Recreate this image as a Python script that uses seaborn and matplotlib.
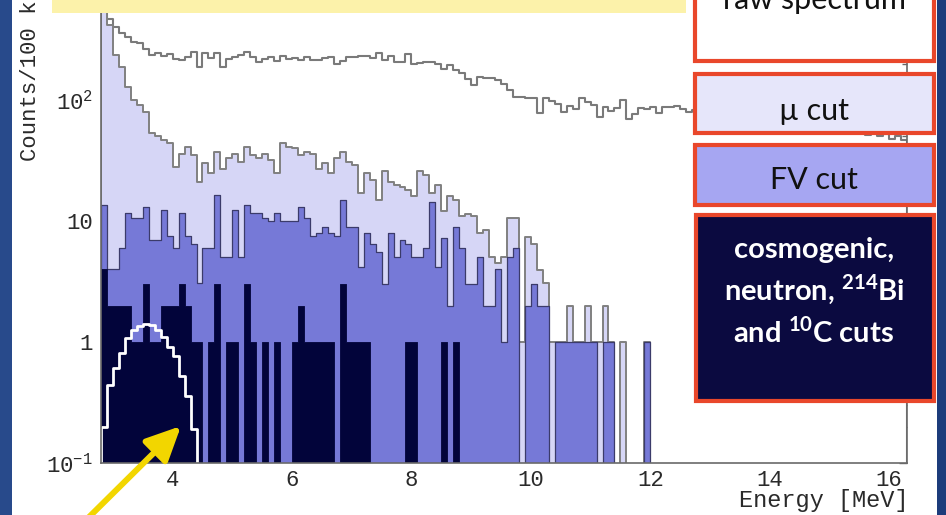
import numpy as np
import pandas as pd
import matplotlib
matplotlib.use("Agg")
import matplotlib.pyplot as plt
import seaborn as sns
from matplotlib.patches import Rectangle
from matplotlib.ticker import MultipleLocator, LogLocator, NullFormatter

# ---------------- data (counts per 0.1 MeV bin, bins start at 2.8 MeV) ----------------
BIN_START = 2.8
BIN_WIDTH = 0.1
N_BINS = 135

raw_spectrum = [
    1000, 470, 400, 358, 330, 300, 295, 265, 235, 244, 232, 240, 218, 214, 225, 250,
    187, 244, 221, 244, 187, 218, 225, 235, 250, 228, 207, 218, 228, 212, 232, 218,
    221, 214, 228, 214, 214, 221, 225, 200, 212, 225, 228, 232, 232, 221, 246, 215,
    232, 207, 207, 240, 200, 203, 207, 207, 200, 180, 195, 177, 168, 150, 133, 154,
    151, 152, 145, 135, 121, 105, 105, 103, 103, 78, 103, 98, 93, 80, 90, 85,
    103, 96, 91, 73, 88, 81, 86, 100, 70, 77, 86, 84, 88, 78, 88, 87, 90, 84, 80,
    82, 79, 85, 76, 80, 74, 78, 72, 75, 70, 73, 68, 71, 66, 69, 64, 67, 62,
    65, 60, 63, 58, 61, 57, 59, 55, 57, 53, 55, 51, 53, 50, 52, 48, 50, 47,
]
mu_cut = [
    900, 420, 235, 187, 128, 100, 91, 80, 53, 50, 47, 44, 28, 36, 41, 35,
    21, 30, 25, 37, 27, 33, 36, 31, 41, 35, 33, 36, 32, 25, 44, 41,
    40, 35, 37, 36, 27, 30, 25, 33, 37, 31, 29, 17, 25, 22, 15, 26,
    21, 20, 19, 18, 16, 26, 24, 17, 20, 12, 16, 15, 11, 11.5, 11, 8, 8.5, 5,
    4.5, 5, 10.6, 10.6, 1, 7.4, 6.5, 3.9, 3.1, 1, 1, 1, 2, 1, 1, 2, 1, 1, 2, 1,
    0, 1, 0, 0, 0, 1,
]
fv_cut = [
    13.5, 4, 4, 6, 11.6, 10.6, 10.6, 13, 7, 7, 12.3, 7.5, 6, 11.6, 7.5, 6.5,
    3.1, 6, 6, 16.5, 5, 5, 12.3, 5, 13.5, 11.6, 11.6, 10.6, 10, 11.6, 10, 10,
    10, 13, 10.6, 7.5, 8, 9, 8, 7.5, 14.8, 9,
    8.9, 4.2, 8, 6.5, 5.5, 3, 8, 5, 7, 6.5, 5, 5, 6, 14.3, 4.2, 7.2, 2, 8.9,
    6, 3, 3, 5, 2, 2, 4, 1, 5, 6,
    0, 2, 3, 2, 2, 0, 1, 1, 1, 1, 1, 1, 1, 0, 1, 1, 0, 0, 0, 0, 0, 1,
]
final_cuts = [
    4, 2, 2, 2, 2, 1, 1, 3, 1, 1, 2, 2, 2, 3, 2, 1, 1, 0, 1, 3,
    0, 1, 1, 0, 3, 1, 0, 1, 0, 1, 0, 0, 1, 2, 1, 1, 1, 1, 1, 0,
    3, 1, 1, 1, 1, 0, 0, 0, 0, 0, 0, 1, 1, 0, 0, 0, 0, 1, 0, 1,
]
expected_curve = [0.2, 0.44, 0.61, 0.81, 1.08, 1.25, 1.36, 1.42, 1.38, 1.25,
                  1.1, 0.91, 0.77, 0.52, 0.36, 0.19, 0]

x_tick_values = [4, 6, 8, 10, 12, 14, 16]
x_tick_labels = ["4", "6", "8", "10", "12", "14", "16"]
y_tick_values = [0.1, 1, 10, 100]
y_tick_labels = [r"10$^{\mathregular{-1}}$", "1", "10", r"10$^{\mathregular{2}}$"]

box_labels = ["raw spectrum", "\u00b5 cut", "FV cut"]
final_box_lines = ["cosmogenic,", r"neutron, $^{\mathregular{214}}$Bi", r"and $^{\mathregular{10}}$C cuts"]

# ---------------- style ----------------
sns.set_style("white")
plt.rcParams["font.family"] = ["Liberation Mono", "DejaVu Sans"]
plt.rcParams["mathtext.fontset"] = "custom"

MU_FILL = "#d6d6f6"
FV_FILL = "#7679d7"
NAVY = "#02043a"
RED = "#e9472b"
MONO = ["Liberation Mono", "DejaVu Sans Mono"]
SANS = ["Lato", "DejaVu Sans"]

W, H = 946, 515
def fx(px):
    return px / W
def fy(py):
    return 1 - py / H

fig = plt.figure(figsize=(W / 100, H / 100), dpi=100)
fig.patch.set_facecolor("white")
ax = fig.add_axes([fx(101), fy(463), (907 - 101) / W, (463 + 21) / H])
ax.set_yscale("log")
ax.set_facecolor("white")

edges = [round(BIN_START + BIN_WIDTH * i, 3) for i in range(N_BINS + 1)]
centers = [e + BIN_WIDTH / 2 for e in edges[:-1]]

def pad(v):
    a = np.zeros(N_BINS)
    a[:len(v)] = v
    return a

df = pd.DataFrame({
    "energy": centers,
    "raw": pad(raw_spectrum),
    "mu": pad(mu_cut),
    "fv": pad(fv_cut),
    "final": pad(final_cuts),
    "expected": pad(expected_curve),
})

layers = [
    ("raw", "white", "#7a7a7a", 1.5, 3),
    ("mu", MU_FILL, "#808080", 1.4, 4),
    ("fv", FV_FILL, "#3b3b6a", 0.9, 5),
    ("final", NAVY, NAVY, 0.6, 6),
]
for col, face, edge, lw, z in layers:
    sns.histplot(data=df, x="energy", weights=col, bins=edges, element="step",
                 fill=True, color=face, facecolor=face, edgecolor=edge,
                 linewidth=lw, alpha=1, ax=ax, zorder=z)

sns.histplot(data=df, x="energy", weights="expected", bins=edges, element="step",
             fill=True, color="white", facecolor="none", edgecolor="white",
             linewidth=2.0, alpha=1, ax=ax, zorder=7)

ax.set_xlim(2.8, 16.3)
ax.set_ylim(0.1, 1000)
ax.set_xlabel("")
ax.set_ylabel("")

ax.set_xticks(x_tick_values)
ax.set_xticklabels(x_tick_labels, fontfamily=MONO, fontsize=16, color="#2a2a2a")
ax.xaxis.set_minor_locator(MultipleLocator(0.5))
ax.set_yticks(y_tick_values)
ax.set_yticklabels(y_tick_labels, fontfamily=MONO, fontsize=16, color="#2a2a2a")
ax.yaxis.set_minor_locator(LogLocator(base=10, subs=np.arange(2, 10)))
ax.yaxis.set_minor_formatter(NullFormatter())
ax.tick_params(axis="both", which="major", direction="in", length=6, width=1,
               color="#666666", top=True, right=True)
ax.tick_params(axis="both", which="minor", direction="in", length=3.5, width=1,
               color="#666666", top=True, right=True)
ax.tick_params(axis="x", pad=5)
ax.tick_params(axis="y", pad=6)
for s in ax.spines.values():
    s.set_color("#6a6a6a")
    s.set_linewidth(1.2)
    s.set_zorder(10)

fig.text(fx(31), fy(67), "Counts/100 keV", rotation=90, ha="center", va="center",
         fontfamily=MONO, fontsize=16, color="#2a2a2a")
fig.text(fx(908), fy(501), "Energy [MeV]", ha="right", va="center",
         fontfamily=MONO, fontsize=17, color="#2a2a2a")

# ---------------- slide decorations ----------------
def fig_rect(x0, y0, x1, y1, face, edge="none", lw=0, z=20):
    r = Rectangle((fx(x0), fy(y1)), (x1 - x0) / W, (y1 - y0) / H,
                  transform=fig.transFigure, facecolor=face, edgecolor=edge,
                  linewidth=lw, zorder=z, clip_on=False)
    fig.add_artist(r)

fig_rect(0, -2, 12, 517, "#284a8b", z=19)
fig_rect(937, -2, 948, 517, "#1d3c7b", z=19)
fig_rect(52, -10, 686, 13, "#fcf2aa", z=20)

fig_rect(695, -10, 934, 61, "white", RED, 3.0)
fig_rect(695, 74, 934, 133, "#e6e6fa", RED, 3.0)
fig_rect(695, 145, 934, 205, "#a6a6f2", RED, 3.0)
fig_rect(696, 215, 934, 401, "#0b0a40", RED, 3.0)

fig.text(fx(814), fy(9), box_labels[0], ha="center", va="baseline",
         fontfamily=SANS, fontsize=22, color="#111111", zorder=21)
fig.text(fx(814), fy(120), box_labels[1], ha="center", va="baseline",
         fontfamily=SANS, fontsize=22, color="#111111", zorder=21)
fig.text(fx(814), fy(189), box_labels[2], ha="center", va="baseline",
         fontfamily=SANS, fontsize=22, color="#111111", zorder=21)
for line, base in zip(final_box_lines, [258, 300, 343]):
    fig.text(fx(814), fy(base), line, ha="center", va="baseline",
             fontfamily=SANS, fontsize=21, fontweight="bold", color="white",
             zorder=21)

ax.annotate("", xy=(fx(181), fy(426)), xytext=(fx(84), fy(522)),
            xycoords="figure fraction", textcoords="figure fraction",
            arrowprops=dict(arrowstyle="-|>,head_length=1.05,head_width=0.5",
                            mutation_scale=20, color="#f2d600", lw=4.3,
                            shrinkA=0, shrinkB=0),
            annotation_clip=False, zorder=25)

fig.savefig("out.png", dpi=100)
